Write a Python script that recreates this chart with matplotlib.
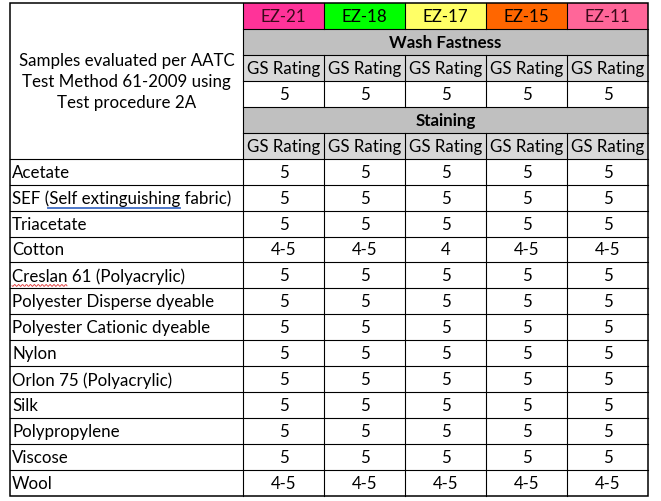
import matplotlib.pyplot as plt
import numpy as np

plt.rcParams['font.family'] = ['Lato', 'DejaVu Sans']

# Samples and their header colours
samples = ['EZ-21', 'EZ-18', 'EZ-17', 'EZ-15', 'EZ-11']
sample_colors = ['#FF3399', '#00FF00', '#FFFF66', '#FF6600', '#FF6699']

# Wash fastness ratings
wash_ratings = ['5', '5', '5', '5', '5']

# Staining ratings per fabric
fabrics = ['Acetate', 'SEF (Self extinguishing fabric)', 'Triacetate', 'Cotton',
           'Creslan 61 (Polyacrylic)', 'Polyester Disperse dyeable',
           'Polyester Cationic dyeable', 'Nylon', 'Orlon 75 (Polyacrylic)',
           'Silk', 'Polypropylene', 'Viscose', 'Wool']
staining = [
    ['5', '5', '5', '5', '5'],
    ['5', '5', '5', '5', '5'],
    ['5', '5', '5', '5', '5'],
    ['4-5', '4-5', '4', '4-5', '4-5'],
    ['5', '5', '5', '5', '5'],
    ['5', '5', '5', '5', '5'],
    ['5', '5', '5', '5', '5'],
    ['5', '5', '5', '5', '5'],
    ['5', '5', '5', '5', '5'],
    ['5', '5', '5', '5', '5'],
    ['5', '5', '5', '5', '5'],
    ['5', '5', '5', '5', '5'],
    ['4-5', '4-5', '4-5', '4-5', '4-5'],
]

title_text = 'Samples evaluated per AATC\nTest Method 61-2009 using\nTest procedure 2A'

# layout (pixels)
x_left, x_split, x_right = 10, 243, 648
y_top, y_bot = 4, 497
n_rows = 6 + len(fabrics)
row_h = (y_bot - y_top) / n_rows
col_edges = np.linspace(x_split, x_right, len(samples) + 1)
col_w = col_edges[1] - col_edges[0]
gray = '#C0C0C0'
light = '#D9D9D9'
fs = 12.2

fig = plt.figure(figsize=(6.61, 5.02), dpi=100)
ax = fig.add_axes([0, 0, 1, 1])
ax.set_xlim(0, 661)
ax.set_ylim(502, 0)
ax.axis('off')


def ry(i):
    return y_top + i * row_h


def cell(x0, r, w, color):
    ax.add_patch(plt.Rectangle((x0, ry(r)), w, row_h, facecolor=color,
                               edgecolor='none', zorder=1))


# header sample row
for j, (s, c) in enumerate(zip(samples, sample_colors)):
    cell(col_edges[j], 0, col_w, c)
    ax.text(col_edges[j] + col_w / 2, ry(0.5), s, ha='center', va='center',
            fontsize=fs, color='#3a0a1a' if j in (0, 4) else 'black', zorder=3)

# section rows
for r, label in [(1, 'Wash Fastness'), (4, 'Staining')]:
    cell(x_split, r, x_right - x_split, gray)
    ax.text((x_split + x_right) / 2, ry(r + 0.5), label, ha='center',
            va='center', fontsize=fs, fontweight='bold', zorder=3)

for r in (2, 5):
    for j in range(len(samples)):
        cell(col_edges[j], r, col_w, light)
        ax.text(col_edges[j] + col_w / 2, ry(r + 0.5), 'GS Rating',
                ha='center', va='center', fontsize=fs, zorder=3)

for j, v in enumerate(wash_ratings):
    ax.text(col_edges[j] + col_w / 2, ry(3.5), v, ha='center', va='center',
            fontsize=fs, zorder=3)

ax.text((x_left + x_split) / 2, ry(3), title_text, ha='center', va='center',
        fontsize=fs, linespacing=1.4, zorder=3)

for i, (f, vals) in enumerate(zip(fabrics, staining)):
    r = 6 + i
    ax.text(x_left + 2, ry(r + 0.5), f, ha='left', va='center', fontsize=fs,
            zorder=3)
    for j, v in enumerate(vals):
        ax.text(col_edges[j] + col_w / 2, ry(r + 0.5), v, ha='center',
                va='center', fontsize=fs, zorder=3)

# grid lines
lw = 0.8
for r in range(1, n_rows):
    x0 = x_split if r < 6 else x_left
    ax.plot([x0, x_right], [ry(r), ry(r)], color='black', lw=lw, zorder=4)
for j, x in enumerate(col_edges[:-1]):
    if j == 0:
        ax.plot([x, x], [y_top, y_bot], color='black', lw=lw, zorder=4)
    else:
        for r in range(n_rows):
            if r in (1, 4):
                continue
            ax.plot([x, x], [ry(r), ry(r + 1)], color='black', lw=lw, zorder=4)
ax.add_patch(plt.Rectangle((x_left, y_top), x_right - x_left, y_bot - y_top,
                           facecolor='none', edgecolor='black', lw=1.1, zorder=5))

# proofing marks
ry_sef = ry(7.5) + 9
ax.plot([47, 180], [ry_sef, ry_sef], color='#3060C0', lw=0.6, zorder=4)
ax.plot([47, 180], [ry_sef + 1.6, ry_sef + 1.6], color='#3060C0', lw=0.6, zorder=4)
wx = np.linspace(12, 67, 60)
wy = ry(10.5) + 10 + 1.0 * np.sin(wx * 1.6)
ax.plot(wx, wy, color='#E03030', lw=0.6, zorder=4)

fig.savefig('out.png', dpi=100)
